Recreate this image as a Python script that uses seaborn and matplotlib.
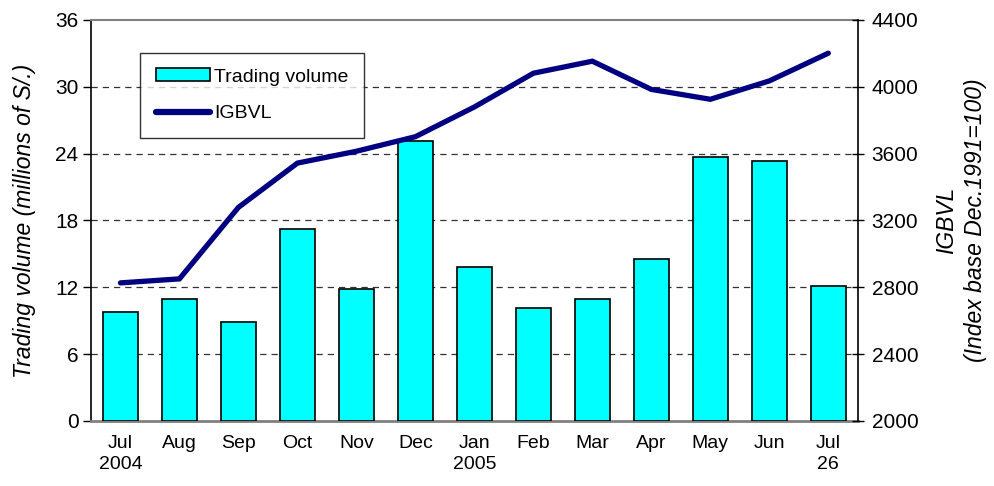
import matplotlib
matplotlib.use("Agg")
import matplotlib.pyplot as plt
import seaborn as sns
import numpy as np
import pandas as pd
from matplotlib.lines import Line2D
from matplotlib.patches import Patch

months = ["Jul\n2004", "Aug", "Sep", "Oct", "Nov", "Dec", "Jan\n2005",
          "Feb", "Mar", "Apr", "May", "Jun", "Jul\n26"]
volume = [9.8, 10.95, 8.9, 17.2, 11.85, 25.1, 13.8, 10.1, 10.95, 14.5, 23.7, 23.3, 12.1]
igbvl = [2826, 2850, 3278, 3543, 3614, 3701, 3879, 4081, 4153, 3984, 3925, 4035, 4201]

left_ticks = [0, 6, 12, 18, 24, 30, 36]
right_ticks = [2000, 2400, 2800, 3200, 3600, 4000, 4400]

sns.set_style("white")
plt.rcParams['font.family'] = ['Liberation Sans', 'DejaVu Sans']
plt.rcParams['text.color'] = 'black'
plt.rcParams['axes.labelcolor'] = 'black'
plt.rcParams['xtick.color'] = 'black'
plt.rcParams['ytick.color'] = 'black'

narrow = ['Liberation Sans Narrow', 'Liberation Sans', 'DejaVu Sans']

df = pd.DataFrame({"month": months, "volume": volume, "igbvl": igbvl,
                   "idx": np.arange(len(months))})

fig = plt.figure(figsize=(9.94, 4.86), dpi=100)
ax = fig.add_axes([0.0915, 0.134, 0.7715, 0.825])

sns.barplot(data=df, x="month", y="volume", order=months, color="#00FFFF",
            saturation=1, edgecolor="black", linewidth=1.2, width=0.6, ax=ax, zorder=3)
ax.set_ylim(0, 36)
ax.set_xlim(-0.5, len(months) - 0.5)
ax.set_yticks(left_ticks)
ax.set_yticklabels([str(t) for t in left_ticks], fontsize=15)
ax.set_xticks(range(len(months)))
ax.set_xticklabels(months, fontsize=14, family=narrow, linespacing=1.3)
ax.set_xlabel("")
ax.set_ylabel("Trading volume (millions of S/.)", fontsize=16.5, style="italic", labelpad=14)
for t in left_ticks[1:-1]:
    ax.axhline(t, color="#333333", linestyle=(0, (5, 4)), linewidth=0.9, zorder=1)
ax.tick_params(axis="y", direction="out", length=6, width=1, color="black", pad=3)
ax.tick_params(axis="x", length=0, pad=10)
ax.spines["left"].set_color("black")
ax.spines["left"].set_linewidth(1.2)
ax.spines["bottom"].set_color("#808080")
ax.spines["bottom"].set_linewidth(2)
ax.spines["top"].set_color("#808080")
ax.spines["top"].set_linewidth(1.5)
ax.spines["right"].set_visible(False)

ax2 = ax.twinx()
sns.lineplot(data=df, x="idx", y="igbvl", color="#000080", linewidth=3.8, ax=ax2,
             zorder=4, solid_capstyle="round", solid_joinstyle="miter")
ax2.set_ylim(2000, 4400)
ax2.set_xlim(-0.5, len(months) - 0.5)
ax2.set_yticks(right_ticks)
ax2.set_yticklabels([str(t) for t in right_ticks], fontsize=15)
ax2.set_ylabel("IGBVL\n(Index base Dec.1991=100)", fontsize=16.5, style="italic",
               labelpad=12, linespacing=1.3)
ax2.tick_params(axis="y", direction="inout", length=8, width=1, color="black", pad=6)
ax2.spines["right"].set_color("black")
ax2.spines["right"].set_linewidth(1.2)
for s in ["left", "top", "bottom"]:
    ax2.spines[s].set_visible(False)
ax2.set_xlabel("")

handles = [Patch(facecolor="#00FFFF", edgecolor="black", linewidth=1.2),
           Line2D([0], [0], color="#000080", linewidth=4.5, solid_capstyle="round")]
leg = ax2.legend(handles, ["Trading volume", "IGBVL"], loc="upper left",
                 bbox_to_anchor=(0.064, 0.918), frameon=True, fancybox=False,
                 fontsize=14, handlelength=2.8, handleheight=0.62, labelspacing=1.0,
                 borderpad=0.8, handletextpad=0.2, borderaxespad=0)
leg.get_frame().set_edgecolor("black")
leg.get_frame().set_linewidth(1)

fig.savefig("out.png", dpi=100)
